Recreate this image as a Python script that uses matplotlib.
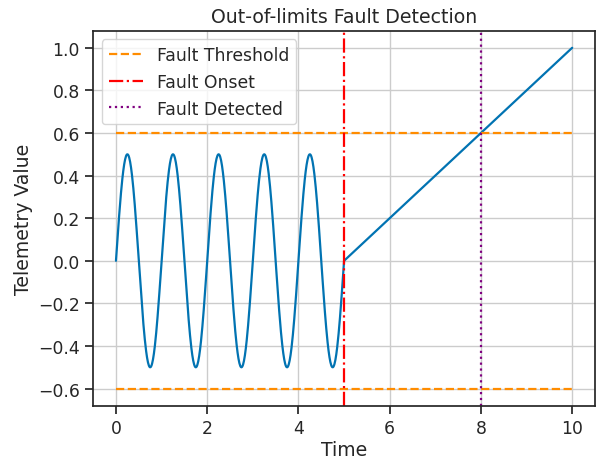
import numpy as np
import matplotlib
matplotlib.use("Agg")
import matplotlib.pyplot as plt
import seaborn as sns

# values
sineAmplitude = 0.5
sinePeriod = 1.0
faultOnset = 5.0
faultDetected = 8.0
endTime = 10.0
endValue = 1.0
thresholds = [0.6, -0.6]
xTicks = [0, 2, 4, 6, 8, 10]
yTicks = [-0.6, -0.4, -0.2, 0.0, 0.2, 0.4, 0.6, 0.8, 1.0]

sns.set_theme(style="ticks", palette="colorblind", rc={"axes.grid": True})
sns.set_context("notebook", font_scale=1.13, rc={"lines.linewidth": 1.6})

timeNormal = np.linspace(0, faultOnset, 500)
valueNormal = sineAmplitude * np.sin(2 * np.pi * timeNormal / sinePeriod)
timeFault = np.linspace(faultOnset, endTime, 500)
valueFault = (timeFault - faultOnset) / (endTime - faultOnset) * endValue
time = np.concatenate([timeNormal, timeFault])
value = np.concatenate([valueNormal, valueFault])

fig = plt.figure(figsize=(6.01, 4.6), dpi=100)
ax = fig.add_axes([0.155, 0.116, 0.835, 0.815])

ax.plot(time, value, color="#0173B2", linewidth=1.6)
ax.plot([0, endTime], [thresholds[0], thresholds[0]], color="darkorange", linestyle="--", linewidth=1.6, label="Fault Threshold")
ax.plot([0, endTime], [thresholds[1], thresholds[1]], color="darkorange", linestyle="--", linewidth=1.6)
ax.axvline(faultOnset, color="red", linestyle="-.", linewidth=1.6, label="Fault Onset")
ax.axvline(faultDetected, color="purple", linestyle=":", linewidth=1.6, label="Fault Detected")

ax.set_xticks(xTicks)
ax.set_yticks(yTicks)
ax.set_xlim(-0.5, 10.5)
ax.set_ylim(-0.68, 1.08)
ax.set_xlabel("Time", labelpad=2)
ax.set_ylabel("Telemetry Value")
ax.set_title("Out-of-limits Fault Detection")
ax.legend(loc="upper left")

for s in ax.spines.values():
    s.set_color("#262626")

plt.savefig("out.png", dpi=100)
